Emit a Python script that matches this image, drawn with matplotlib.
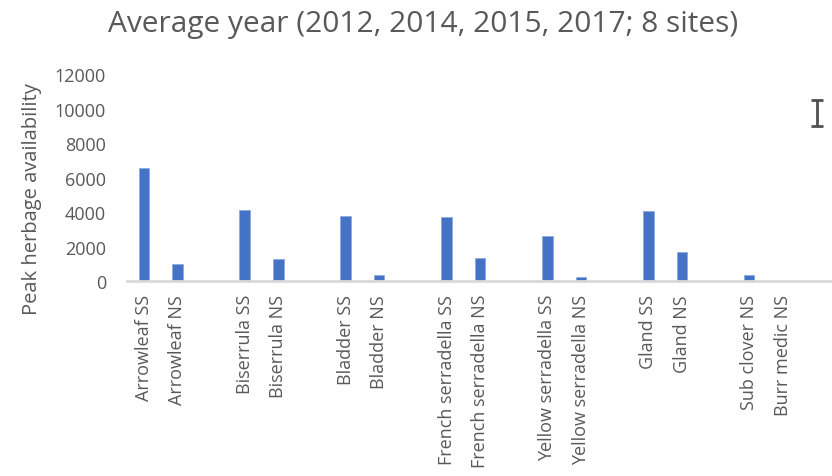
import matplotlib.pyplot as plt
import numpy as np

plt.rcParams["font.family"] = ["Open Sans", "DejaVu Sans"]

# peak herbage availability by species and seeding (blank slots separate species)
categories = ["Arrowleaf SS", "Arrowleaf NS", "",
              "Biserrula SS", "Biserrula NS", "",
              "Bladder SS", "Bladder NS", "",
              "French serradella SS", "French serradella NS", "",
              "Yellow serradella SS", "Yellow serradella NS", "",
              "Gland SS", "Gland NS", "",
              "Sub clover NS", "Burr medic NS", ""]
values = [6560, 990, np.nan,
          4140, 1280, np.nan,
          3790, 370, np.nan,
          3740, 1330, np.nan,
          2650, 240, np.nan,
          4080, 1720, np.nan,
          390, 0, np.nan]
# lone error bar on the last slot
err_center = [np.nan] * 20 + [9750]
err_size = [0] * 20 + [750]

grey = "#595959"
blue = "#4472C4"

fig = plt.figure(figsize=(8.32, 4.77), dpi=100)
ax = fig.add_axes([0.1526, 0.4078, 0.849, 0.435])

x = np.arange(len(categories))
ax.bar(x, values, width=0.31, color=blue, edgecolor="#8FAADC", linewidth=0.6)
ax.errorbar(x, err_center, yerr=err_size, fmt="none", ecolor="#505050",
            elinewidth=2, capsize=4, capthick=2)

ax.set_xlim(-0.5, len(categories) - 0.5)
ax.set_ylim(0, 12000)
ax.set_yticks(np.arange(0, 12001, 2000))
ax.set_xticks(x)
ax.set_xticklabels(categories, rotation=90, fontsize=13, color=grey)
ax.tick_params(axis="y", labelsize=13, labelcolor=grey, length=0, pad=15)
ax.tick_params(axis="x", length=0, pad=9)

for side in ["top", "right", "left"]:
    ax.spines[side].set_visible(False)
ax.spines["bottom"].set_color("#D9D9D9")
ax.spines["bottom"].set_linewidth(2)

ax.set_ylabel("Peak herbage availability", fontsize=14.5, color=grey)
ax.yaxis.set_label_coords(-0.12, 0.40)
fig.suptitle("Average year (2012, 2014, 2015, 2017; 8 sites)", fontsize=21.5,
             color=grey, x=0.508, y=0.978)

fig.savefig("out.png", dpi=100)
